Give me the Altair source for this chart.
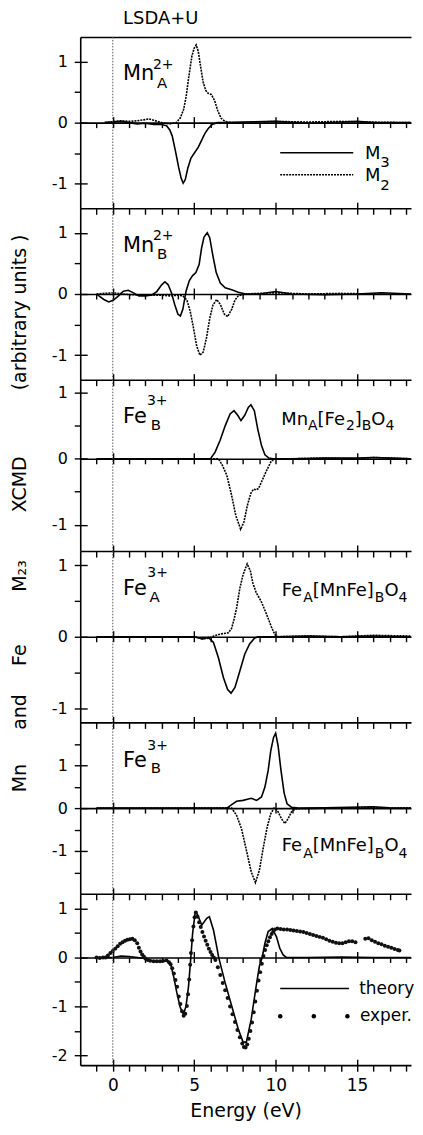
import altair as alt
import pandas as pd

FONT = "DejaVu Sans"

# ---------------- data ----------------
# Panel 1: Mn_A^2+
p1_m3_x = [-0.5, 0.5, 1.0, 1.5, 2.0, 2.5, 3.0, 3.3, 3.5, 3.65, 3.85, 4.05, 4.2, 4.32, 4.45, 4.6, 4.8, 5.05, 5.25, 5.45, 5.65, 5.85, 6.1, 6.4, 7.0, 8, 10, 12, 14, 15, 16, 18.3]
p1_m3_y = [0, 0.02, 0.0, -0.02, -0.01, -0.03, -0.03, -0.05, -0.12, -0.22, -0.47, -0.74, -0.91, -0.99, -0.93, -0.75, -0.58, -0.48, -0.4, -0.29, -0.18, -0.1, -0.03, 0, 0, 0.01, 0.02, -0.01, 0.01, 0.02, 0, 0]
p1_m2_x = [-0.5, 0.5, 1.0, 1.5, 2.0, 2.2, 2.5, 3.0, 3.5, 3.9, 4.15, 4.35, 4.5, 4.65, 4.85, 5.0, 5.12, 5.25, 5.4, 5.55, 5.7, 5.85, 6.05, 6.25, 6.45, 6.65, 6.9, 7.3, 8, 10, 12, 14, 15.5, 18.3]
p1_m2_y = [0, 0.03, 0.02, 0.03, 0.05, 0.06, 0.04, 0.0, -0.02, 0.0, 0.08, 0.22, 0.42, 0.72, 1.08, 1.22, 1.27, 1.16, 0.9, 0.66, 0.53, 0.48, 0.46, 0.36, 0.19, 0.07, 0.02, 0, 0, 0.02, 0.01, 0.02, 0.01, 0]

# Panel 2: Mn_B^2+
p2_m3_x = [-1.0, -0.85, -0.55, -0.25, 0.05, 0.35, 0.65, 0.95, 1.3, 1.6, 2.0, 2.4, 2.7, 3.0, 3.2, 3.4, 3.6, 3.8, 4.0, 4.15, 4.3, 4.5, 4.7, 4.9, 5.1, 5.3, 5.45, 5.6, 5.8, 5.95, 6.15, 6.35, 6.6, 6.9, 7.3, 7.7, 8.1, 9, 10, 11, 13, 15, 16.5, 18.3]
p2_m3_y = [0, -0.03, -0.09, -0.13, -0.1, -0.03, 0.045, 0.06, 0.015, -0.03, -0.03, -0.015, 0.04, 0.15, 0.2, 0.15, 0.02, -0.17, -0.33, -0.36, -0.25, 0.05, 0.22, 0.3, 0.35, 0.48, 0.75, 0.93, 1.0, 0.92, 0.62, 0.35, 0.18, 0.1, 0.07, 0.03, 0.005, 0, 0.04, 0.0, -0.01, 0.0, 0.02, 0]
p2_m2_x = [-1.0, 0, 1, 2, 3, 3.5, 4.0, 4.3, 4.55, 4.75, 4.95, 5.15, 5.35, 5.55, 5.75, 5.95, 6.15, 6.38, 6.6, 6.85, 7.05, 7.3, 7.5, 7.7, 8.1, 9, 10, 12, 14, 16, 18.3]
p2_m2_y = [0, 0.02, -0.01, -0.02, -0.02, -0.03, -0.02, -0.03, -0.1, -0.28, -0.55, -0.85, -1.0, -0.95, -0.72, -0.4, -0.18, -0.09, -0.17, -0.33, -0.37, -0.25, -0.1, -0.03, 0, 0.01, 0.02, 0, 0.01, 0, 0]

# Panel 3: Fe_B^3+ in Mn_A[Fe2]_BO4
p3_m3_x = [-1, 6.0, 6.28, 6.59, 6.9, 7.2, 7.44, 7.67, 7.87, 8.1, 8.32, 8.48, 8.69, 8.9, 9.13, 9.34, 9.58, 9.85, 11, 13, 15, 16, 17, 18.3]
p3_m3_y = [0, 0, 0.1, 0.28, 0.5, 0.68, 0.73, 0.66, 0.58, 0.66, 0.78, 0.82, 0.73, 0.45, 0.2, 0.06, 0.01, 0, 0, 0.01, 0.01, 0.02, 0.01, 0]
p3_m2_x = [-1, 6.48, 6.69, 7.0, 7.3, 7.55, 7.85, 8.05, 8.26, 8.48, 8.65, 8.8, 8.95, 9.13, 9.44, 9.7, 9.9, 11, 13, 15, 16, 18.3]
p3_m2_y = [0, 0, -0.08, -0.25, -0.56, -0.86, -1.07, -0.96, -0.71, -0.52, -0.46, -0.47, -0.45, -0.35, -0.18, -0.05, 0, 0, 0.01, 0.0, 0.02, 0]

# Panel 4: Fe_A^3+ in Fe_A[MnFe]_BO4
p4_m3_x = [-1, 5.0, 5.5, 5.87, 6.18, 6.48, 6.79, 7.05, 7.26, 7.5, 7.8, 8.1, 8.4, 8.7, 8.9, 10, 12, 14, 16, 18.3]
p4_m3_y = [0, 0, -0.03, -0.01, -0.08, -0.29, -0.57, -0.74, -0.79, -0.71, -0.48, -0.245, -0.1, -0.02, 0, 0, 0.01, 0, 0.01, 0]
p4_m2_x = [-1, 5.0, 5.5, 5.9, 6.2, 6.5, 6.8, 7.1, 7.3, 7.45, 7.6, 7.8, 8.0, 8.25, 8.45, 8.6, 8.8, 9.1, 9.45, 9.75, 9.95, 10.15, 12, 14, 16, 18.3]
p4_m2_y = [0, 0, -0.03, -0.02, 0.01, 0.03, 0.045, 0.055, 0.12, 0.25, 0.4, 0.68, 0.87, 1.02, 0.92, 0.75, 0.62, 0.5, 0.31, 0.13, 0.03, 0, 0.01, 0.0, 0.02, 0.01]

# Panel 5: Fe_B^3+ in Fe_A[MnFe]_BO4
p5_m3_x = [-1, 6.5, 7.0, 7.3, 7.6, 8.0, 8.5, 8.83, 9.13, 9.34, 9.54, 9.7, 9.87, 10.0, 10.15, 10.32, 10.52, 10.7, 10.97, 11.4, 13, 14.5, 16, 17, 18.3]
p5_m3_y = [0, 0, 0, 0.08, 0.16, 0.18, 0.23, 0.18, 0.26, 0.49, 0.88, 1.34, 1.65, 1.75, 1.45, 0.9, 0.35, 0.1, 0.02, 0, 0.01, 0.02, 0.03, 0.01, 0]
p5_m2_x = [-1, 7.0, 7.3, 7.6, 7.9, 8.2, 8.5, 8.76, 9.0, 9.25, 9.48, 9.7, 9.9, 10.1, 10.36, 10.56, 10.76, 10.97, 11.2, 13, 15, 18.3]
p5_m2_y = [0, 0, 0, -0.17, -0.48, -0.98, -1.49, -1.74, -1.45, -0.9, -0.44, -0.13, 0, -0.05, -0.25, -0.36, -0.25, -0.09, -0.02, 0, 0.01, 0]

# Panel 6: theory vs experiment
p6_th_x = [-1, 0, 0.5, 1.0, 1.5, 2.0, 2.5, 3.0, 3.3, 3.53, 3.73, 3.93, 4.14, 4.34, 4.5, 4.65, 4.79, 4.9, 5.06, 5.2, 5.46, 5.77, 5.93, 6.18, 6.38, 6.5, 6.9, 7.3, 7.7, 8.0, 8.2, 8.5, 8.8, 9.0, 9.17, 9.34, 9.54, 9.79, 10.05, 10.25, 10.46, 10.66, 12, 14, 16, 18.3]
p6_th_y = [0, 0, 0.03, 0.02, 0.0, -0.02, -0.08, -0.08, -0.06, -0.11, -0.38, -0.72, -1.02, -1.16, -0.99, -0.59, 0, 0.49, 0.92, 0.88, 0.66, 0.8, 0.83, 0.56, 0.22, 0, -0.52, -0.99, -1.46, -1.73, -1.73, -1.26, -0.59, -0.18, 0, 0.29, 0.53, 0.59, 0.42, 0.19, 0.05, 0, 0, 0.01, 0, 0]
p6_ex_x = [-1.0, -0.8, -0.6, -0.45, -0.3, -0.15, 0.0, 0.15, 0.3, 0.45, 0.6, 0.75, 0.9, 1.05, 1.2, 1.35, 1.5, 1.6, 1.7, 1.8, 1.9, 2.0, 2.15, 2.3, 2.5, 2.7, 2.9, 3.1, 3.3, 3.45,
           3.55, 3.65, 3.75, 3.85, 3.95, 4.05, 4.15, 4.25, 4.35, 4.45, 4.55, 4.62, 4.69, 4.75, 4.8, 4.87, 4.95, 5.02, 5.1,
           5.2, 5.3, 5.4, 5.5, 5.6, 5.7, 5.8, 5.9, 6.0, 6.1, 6.2, 6.3, 6.45, 6.6, 6.75, 6.9, 7.05, 7.2, 7.35, 7.5, 7.65, 7.8, 7.95, 8.05, 8.15,
           8.25, 8.35, 8.45, 8.55, 8.65, 8.75, 8.85, 8.95, 9.05, 9.15, 9.25, 9.35, 9.45, 9.55, 9.65, 9.75, 9.85, 9.95, 10.1, 10.3, 10.5, 10.7, 10.9,
           11.1, 11.3, 11.5, 11.7, 11.9, 12.1, 12.3, 12.5, 12.7, 12.9, 13.1, 13.3, 13.5, 13.7, 13.9, 14.1, 14.3, 14.5, 14.7, 14.9,
           15.5, 15.7, 15.9, 16.1, 16.3, 16.5, 16.7, 16.9, 17.1, 17.3, 17.5, 17.6]
p6_ex_y = [0.0, -0.01, 0.0, 0.0, 0.04, 0.09, 0.13, 0.18, 0.23, 0.28, 0.31, 0.34, 0.36, 0.37, 0.38, 0.35, 0.29, 0.2, 0.12, 0.06, 0.02, -0.02, -0.05, -0.07, -0.08, -0.08, -0.08, -0.07, -0.06, -0.1,
           -0.14, -0.22, -0.33, -0.46, -0.6, -0.8, -0.95, -1.1, -1.19, -1.15, -0.99, -0.75, -0.45, -0.15, 0.09, 0.35, 0.63, 0.82, 0.92,
           0.83, 0.72, 0.62, 0.52, 0.43, 0.34, 0.26, 0.18, 0.11, 0.05, 0.0, -0.05, -0.2, -0.36, -0.52, -0.67, -0.83, -1.0, -1.16, -1.32, -1.48, -1.63, -1.76, -1.83, -1.84,
           -1.78, -1.66, -1.5, -1.33, -1.12, -0.9, -0.68, -0.47, -0.3, -0.13, 0.03, 0.15, 0.25, 0.33, 0.41, 0.48, 0.53, 0.57, 0.59, 0.58, 0.57, 0.57, 0.56,
           0.55, 0.54, 0.53, 0.52, 0.5, 0.48, 0.46, 0.44, 0.42, 0.4, 0.37, 0.34, 0.32, 0.3, 0.29, 0.29, 0.31, 0.33, 0.33, 0.31,
           0.38, 0.39, 0.35, 0.32, 0.29, 0.27, 0.24, 0.22, 0.2, 0.17, 0.15, 0.14]

# axis values / tick labels
x_domain = [-2, 18.31]
x_minor = list(range(-1, 19))
x_major = [0, 5, 10, 15]
y_domains = [[-1.4, 1.4], [-1.4, 1.4], [-1.4, 1.2], [-1.2, 1.2], [-2, 2], [-2.2, 1.3]]
y_ticks = [[-1, -0.5, 0, 0.5, 1]] * 4 + [[-1.5, -1, -0.5, 0, 0.5, 1, 1.5], [-2, -1.5, -1, -0.5, 0, 0.5, 1]]
y_major = [[-1, 0, 1]] * 5 + [[-2, -1, 0, 1]]

# ---------------- layout constants ----------------
W = 332
H = 172
LW = 1.6
M2_DASH = [2, 1]

one = pd.DataFrame({"k": [0]})
axis_df = pd.DataFrame({"e": [-1, 18], "v": [0, 0]})
xscale = alt.Scale(domain=x_domain, nice=False, zero=False)

GLYPH = {"M": 0.863, "n": 0.634, "F": 0.575, "e": 0.615, "[": 0.390, "]": 0.390,
         "O": 0.787, "A": 0.684, "B": 0.686, "2": 0.636, "4": 0.636}


def xaxis(yscale, orient, offset, values, size, ticks=True, domain=True, labels=False, title=None, **kw):
    ax = alt.Axis(orient=orient, offset=offset, values=values, tickSize=size, ticks=ticks,
                  domain=domain, labels=labels, title=title, grid=False, **kw)
    return alt.Chart(axis_df).mark_point(opacity=0).encode(
        x=alt.X("e:Q", scale=xscale, axis=ax),
        y=alt.Y("v:Q", scale=yscale, axis=None))


def text(t, x, y, size, angle=0, align="left"):
    props = dict(text=t, font=FONT, fontSize=size, align=align, baseline="alphabetic", color="black")
    if angle:
        props["angle"] = angle
    return alt.Chart(one).mark_text(**props).encode(x=alt.value(x), y=alt.value(y))


def formula(segs, x0, base, sub_base, fs_main=18, fs_sub=14):
    out = []
    x = x0
    for t, kind in segs:
        fs = fs_main if kind == "n" else fs_sub
        out.append(text(t, x, base if kind == "n" else sub_base, fs))
        x += sum(GLYPH[c] for c in t) * fs
    return out


def label(main, sup, sub, xsup, xsub, base, bsup, bsub):
    return [text(main, 43, base, 21), text(sup, xsup, bsup, 14), text(sub, xsub, bsub, 15)]


def panel(i, solid, dotted, extra, first=False, last=False, exper=None):
    ymin, ymax = y_domains[i]
    yscale = alt.Scale(domain=[ymin, ymax], nice=False, zero=False)
    y0 = H * ymax / (ymax - ymin)
    lab_expr = "datum.value % 1 === 0 ? '' + datum.value : ''"
    right_axis = alt.Axis(orient="right", offset=-W, values=y_major[i], tickSize=7,
                          labels=False, domain=False, title=None, grid=False)
    sx, sy = solid
    solid_layer = alt.Chart(pd.DataFrame({"e": sx, "v": sy})).mark_line(
        color="black", strokeWidth=LW).encode(
        x=alt.X("e:Q", scale=xscale, axis=None),
        y=alt.Y("v:Q", scale=yscale, axis=alt.Axis(
            orient="left", values=y_ticks[i], labelExpr=lab_expr, tickSize=6,
            labelPadding=7, labelFontSize=16, title=None, grid=False)))
    layers = [solid_layer]
    if dotted is not None:
        dx, dy = dotted
        layers.append(alt.Chart(pd.DataFrame({"e": dx, "v": dy})).mark_line(
            color="black", strokeWidth=LW, strokeDash=M2_DASH).encode(
            x=alt.X("e:Q", scale=xscale, axis=None),
            y=alt.Y("v:Q", scale=yscale, axis=right_axis)))
    if exper is not None:
        ex, ey = exper
        layers.append(alt.Chart(pd.DataFrame({"e": ex, "v": ey})).mark_circle(
            color="#111", size=16, opacity=1).encode(
            x=alt.X("e:Q", scale=xscale, axis=None),
            y=alt.Y("v:Q", scale=yscale, axis=right_axis)))
    # vertical dotted line at E = 0
    layers.append(alt.Chart(pd.DataFrame({"e": [0]})).mark_rule(
        color="#555", strokeWidth=1, strokeDash=[1.5, 1.5]).encode(
        x=alt.X("e:Q", scale=xscale, axis=None)))
    # top border
    if first:
        layers.append(xaxis(yscale, "top", 0, x_major, 6, ticks=False))
    else:
        layers.append(xaxis(yscale, "bottom", -H, x_minor, 6))
        layers.append(xaxis(yscale, "top", 0, x_major, 6, domain=False))
    # zero line with ticks
    layers.append(xaxis(yscale, "bottom", -(H - y0), x_minor, 5))
    layers.append(xaxis(yscale, "top", -y0, x_major, 6, domain=False))
    # bottom axis with labels
    if last:
        layers.append(xaxis(yscale, "bottom", 0, x_minor, 6, labels=True, title="Energy (eV)",
                            labelExpr="datum.value % 5 === 0 ? '' + datum.value : ''",
                            labelFontSize=17, labelPadding=6, titleFontSize=19,
                            titlePadding=9))
        layers.append(xaxis(yscale, "top", -H, x_major, 6, domain=False))
    layers += extra
    return alt.layer(*layers).resolve_scale(x="shared", y="shared").resolve_axis(
        x="independent", y="independent").properties(width=W, height=H)


# ---------------- annotations ----------------
ann1 = [text("LSDA+U", 43, -12.5, 18)] + label("Mn", "2+", "A", 73, 77, 43, 32.5, 51.5)
ann1 += [
    alt.Chart(one).mark_rule(color="black", strokeWidth=LW).encode(
        x=alt.value(200.7), x2=alt.value(274), y=alt.value(116.3)),
    alt.Chart(one).mark_rule(color="black", strokeWidth=LW, strokeDash=M2_DASH).encode(
        x=alt.value(200.7), x2=alt.value(274), y=alt.value(138.3)),
    text("M", 285.7, 122.3, 18), text("3", 301.2, 131, 15),
    text("M", 285.7, 144.5, 18), text("2", 301.2, 153.5, 15),
]
# y title, word by word
ytitle = [("(arbitrary units )", 276.5), ("XCMD", 449), ("M\u2082\u2083", 541),
          ("Fe", 620.5), ("and", 677.5), ("Mn", 744)]
ann1 += [text(t, -54.5, yy, 19, angle=270, align="center") for t, yy in ytitle]

ann2 = label("Mn", "2+", "B", 73, 77, 43.7, 32, 51)
ann3 = label("Fe", "3+", "B", 67, 70.7, 43.3, 25, 50.7)
ann3 += formula([("Mn", "n"), ("A", "s"), ("[Fe", "n"), ("2", "s"), ("]", "n"), ("B", "s"), ("O", "n"), ("4", "s")],
                201.7, 45, 50.5)
ann4 = label("Fe", "3+", "A", 67.3, 69.5, 44, 26.3, 51.3)
ann4 += formula([("Fe", "n"), ("A", "s"), ("[MnFe]", "n"), ("B", "s"), ("O", "n"), ("4", "s")],
                202.3, 44.7, 51)
ann5 = label("Fe", "3+", "B", 67.3, 70.7, 44.3, 28, 51)
ann5 += formula([("Fe", "n"), ("A", "s"), ("[MnFe]", "n"), ("B", "s"), ("O", "n"), ("4", "s")],
                202.3, 129.3, 136)
ann6 = [
    alt.Chart(one).mark_rule(color="black", strokeWidth=LW).encode(
        x=alt.value(200.7), x2=alt.value(269.7), y=alt.value(95)),
    alt.Chart(one).mark_rule(color="black", strokeWidth=4.5, strokeCap="round",
                             strokeDash=[0.1, 33.6]).encode(
        x=alt.value(200.7), x2=alt.value(270), y=alt.value(123)),
    text("theory", 280, 100.7, 17),
    text("exper.", 280.7, 128, 17),
]

panels = [
    panel(0, (p1_m3_x, p1_m3_y), (p1_m2_x, p1_m2_y), ann1, first=True),
    panel(1, (p2_m3_x, p2_m3_y), (p2_m2_x, p2_m2_y), ann2),
    panel(2, (p3_m3_x, p3_m3_y), (p3_m2_x, p3_m2_y), ann3),
    panel(3, (p4_m3_x, p4_m3_y), (p4_m2_x, p4_m2_y), ann4),
    panel(4, (p5_m3_x, p5_m3_y), (p5_m2_x, p5_m2_y), ann5),
    panel(5, (p6_th_x, p6_th_y), None, ann6, last=True, exper=(p6_ex_x, p6_ex_y)),
]

chart = alt.VConcatChart(vconcat=panels, spacing=0, bounds="flush").properties(
    padding={"left": 2.5, "top": 0, "right": 0, "bottom": 0}
).configure_view(stroke=None).configure_axis(
    domainColor="black", tickColor="black", labelColor="black", titleColor="black",
    domainWidth=1.6, tickWidth=1.4, labelFont=FONT, titleFont=FONT,
    titleFontWeight="normal", grid=False)

chart.save("out.html", embed_options={"renderer": "svg", "actions": False})
